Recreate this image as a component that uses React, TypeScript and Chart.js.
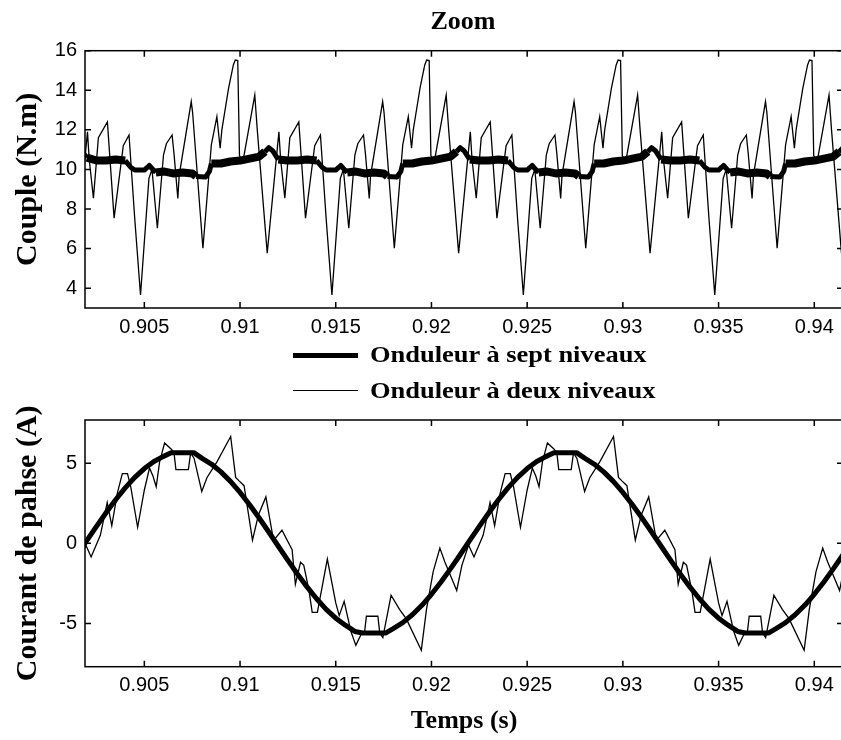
import React, { useEffect, useRef } from 'react';
import { Chart, registerables } from 'chart.js';

Chart.register(...registerables);

const SERIF = '"Liberation Serif", "Times New Roman", serif';
const SANS = '"Liberation Sans", Arial, sans-serif';

// ---- axes ----
const X_MIN = 0.9019;
const X_MAX = 0.9415;
const xTickValues = [0.905, 0.91, 0.915, 0.92, 0.925, 0.93, 0.935, 0.94];
const xTickLabels = ['0.905', '0.91', '0.915', '0.92', '0.925', '0.93', '0.935', '0.94'];
const torqueTicks = [4, 6, 8, 10, 12, 14, 16];
const currentTicks = [-5, 0, 5];

const legendLabels = ['Onduleur à sept niveaux', 'Onduleur à deux niveaux'];

// ---- Couple (N.m), two-level inverter: [time s, torque N.m] ----
const torqueTwoLevel: [number, number][] = [
  [0.90142, 5.77], [0.90203, 11.9], [0.90212, 10.5], [0.90234, 8.55], [0.9026, 11.6], [0.90307, 12.4], [0.90342, 7.54], [0.9039, 11.2], [0.9042, 11.74], [0.9045, 7.5],
  [0.9048, 3.66], [0.90524, 9.55], [0.9054, 10.0], [0.90568, 7.03], [0.906, 10.73], [0.90615, 11.3], [0.90645, 11.74], [0.90655, 10.8], [0.90675, 8.54], [0.90682, 9.7], [0.90745, 13.43], [0.90752, 12.9], [0.90806, 6.02], [0.9085, 11.24], [0.90879, 12.67], [0.90896, 11.07], [0.90905, 12.0], [0.9094, 14.1], [0.90965, 15.28], [0.90975, 15.53], [0.90988, 15.5], [0.90997, 10.7], [0.91015, 10.4], [0.91077, 13.76], [0.9109, 12.0], [0.91142, 5.77], [0.91203, 11.9], [0.91212, 10.5], [0.91234, 8.55], [0.9126, 11.6], [0.91307, 12.4], [0.91342, 7.54], [0.9139, 11.2], [0.9142, 11.74], [0.9145, 7.5],
  [0.9148, 3.66], [0.91524, 9.55], [0.9154, 10.0], [0.91568, 7.03], [0.916, 10.73], [0.91615, 11.3], [0.91645, 11.74], [0.91655, 10.8], [0.91675, 8.54], [0.91682, 9.7], [0.91745, 13.43], [0.91752, 12.9], [0.91806, 6.02], [0.9185, 11.24], [0.91879, 12.67], [0.91896, 11.07], [0.91905, 12.0], [0.9194, 14.1], [0.91965, 15.28], [0.91975, 15.53], [0.91988, 15.5], [0.91997, 10.7], [0.92015, 10.4], [0.92077, 13.76], [0.9209, 12.0], [0.92142, 5.77], [0.92203, 11.9], [0.92212, 10.5], [0.92234, 8.55], [0.9226, 11.6], [0.92307, 12.4], [0.92342, 7.54], [0.9239, 11.2], [0.9242, 11.74], [0.9245, 7.5],
  [0.9248, 3.66], [0.92524, 9.55], [0.9254, 10.0], [0.92568, 7.03], [0.926, 10.73], [0.92615, 11.3], [0.92645, 11.74], [0.92655, 10.8], [0.92675, 8.54], [0.92682, 9.7], [0.92745, 13.43], [0.92752, 12.9], [0.92806, 6.02], [0.9285, 11.24], [0.92879, 12.67], [0.92896, 11.07], [0.92905, 12.0], [0.9294, 14.1], [0.92965, 15.28], [0.92975, 15.53], [0.92988, 15.5], [0.92997, 10.7], [0.93015, 10.4], [0.93077, 13.76], [0.9309, 12.0], [0.93142, 5.77], [0.93203, 11.9], [0.93212, 10.5], [0.93234, 8.55], [0.9326, 11.6], [0.93307, 12.4], [0.93342, 7.54], [0.9339, 11.2], [0.9342, 11.74], [0.9345, 7.5],
  [0.9348, 3.66], [0.93524, 9.55], [0.9354, 10.0], [0.93568, 7.03], [0.936, 10.73], [0.93615, 11.3], [0.93645, 11.74], [0.93655, 10.8], [0.93675, 8.54], [0.93682, 9.7], [0.93745, 13.43], [0.93752, 12.9], [0.93806, 6.02], [0.9385, 11.24], [0.93879, 12.67], [0.93896, 11.07], [0.93905, 12.0], [0.9394, 14.1], [0.93965, 15.28], [0.93975, 15.53], [0.93988, 15.5], [0.93997, 10.7], [0.94015, 10.4], [0.94077, 13.76], [0.9409, 12.0], [0.94142, 5.77], [0.94203, 11.9], [0.94212, 10.5],
];

// ---- Couple (N.m), seven-level inverter: [time s, torque N.m] ----
const torqueSevenLevel: [number, number][] = [
  [0.901, 10.65], [0.9013, 10.9], [0.9015, 11.1], [0.9017, 10.95], [0.902, 10.6], [0.9025, 10.45], [0.903, 10.45], [0.9035, 10.5],
  [0.904, 10.45], [0.9043, 10.1], [0.9045, 9.97], [0.905, 9.97], [0.90515, 10.1], [0.90526, 10.2], [0.9054, 10.05], [0.9056, 9.85], [0.906, 9.9], [0.9065, 9.8], [0.907, 9.85], [0.9075, 9.8], [0.9077, 9.65], [0.9082, 9.62], [0.9084, 9.9], [0.9085, 10.3], [0.909, 10.3], [0.9095, 10.4], [0.91, 10.45], [0.9105, 10.55], [0.911, 10.65], [0.9113, 10.9], [0.9115, 11.1], [0.9117, 10.95], [0.912, 10.5], [0.9125, 10.45], [0.913, 10.45], [0.9135, 10.5],
  [0.914, 10.45], [0.9143, 10.1], [0.9145, 9.97], [0.915, 9.97], [0.91515, 10.1], [0.91526, 10.2], [0.9154, 10.05], [0.9156, 9.85], [0.916, 9.9], [0.9165, 9.8], [0.917, 9.85], [0.9175, 9.8], [0.9177, 9.65], [0.9182, 9.62], [0.9184, 9.9], [0.9185, 10.3], [0.919, 10.3], [0.9195, 10.4], [0.92, 10.45], [0.9205, 10.55], [0.921, 10.65], [0.9213, 10.9], [0.9215, 11.1], [0.9217, 10.95], [0.922, 10.5], [0.9225, 10.45], [0.923, 10.45], [0.9235, 10.5],
  [0.924, 10.45], [0.9243, 10.1], [0.9245, 9.97], [0.925, 9.97], [0.92515, 10.1], [0.92526, 10.2], [0.9254, 10.05], [0.9256, 9.85], [0.926, 9.9], [0.9265, 9.8], [0.927, 9.85], [0.9275, 9.8], [0.9277, 9.65], [0.9282, 9.62], [0.9284, 9.9], [0.9285, 10.3], [0.929, 10.3], [0.9295, 10.4], [0.93, 10.45], [0.9305, 10.55], [0.931, 10.65], [0.9313, 10.9], [0.9315, 11.1], [0.9317, 10.95], [0.932, 10.5], [0.9325, 10.45], [0.933, 10.45], [0.9335, 10.5],
  [0.934, 10.45], [0.9343, 10.1], [0.9345, 9.97], [0.935, 9.97], [0.93515, 10.1], [0.93526, 10.2], [0.9354, 10.05], [0.9356, 9.85], [0.936, 9.9], [0.9365, 9.8], [0.937, 9.85], [0.9375, 9.8], [0.9377, 9.65], [0.9382, 9.62], [0.9384, 9.9], [0.9385, 10.3], [0.939, 10.3], [0.9395, 10.4], [0.94, 10.45], [0.9405, 10.55], [0.941, 10.65], [0.9413, 10.9], [0.9415, 11.1], [0.9417, 10.95],
];

// ---- Courant de phase (A), seven-level inverter ----
const currentSevenLevel: [number, number][] = [
  [0.9015, -0.71], [0.902, 0.18], [0.9025, 1.06], [0.903, 1.91], [0.9035, 2.72], [0.904, 3.46], [0.9045, 4.12], [0.905, 4.67], [0.9055, 5.11], [0.906, 5.43], [0.9064, 5.65], [0.907, 5.65], [0.9076, 5.65], [0.908, 5.32], [0.9085, 4.95], [0.909, 4.46], [0.9095, 3.87], [0.91, 3.18], [0.9105, 2.41], [0.911, 1.58], [0.9115, 0.71], [0.912, -0.18], [0.9125, -1.06], [0.913, -1.91], [0.9135, -2.72], [0.914, -3.46], [0.9145, -4.12], [0.915, -4.67], [0.9155, -5.11], [0.916, -5.5], [0.9164, -5.6], [0.917, -5.6], [0.9176, -5.6], [0.918, -5.32], [0.9185, -4.95], [0.919, -4.46], [0.9195, -3.87], [0.92, -3.18], [0.9205, -2.41], [0.921, -1.58], [0.9215, -0.71],
  [0.922, 0.18], [0.9225, 1.06], [0.923, 1.91], [0.9235, 2.72], [0.924, 3.46], [0.9245, 4.12], [0.925, 4.67], [0.9255, 5.11], [0.926, 5.43], [0.9264, 5.65], [0.927, 5.65], [0.9276, 5.65], [0.928, 5.32], [0.9285, 4.95], [0.929, 4.46], [0.9295, 3.87], [0.93, 3.18], [0.9305, 2.41], [0.931, 1.58], [0.9315, 0.71], [0.932, -0.18], [0.9325, -1.06], [0.933, -1.91], [0.9335, -2.72], [0.934, -3.46], [0.9345, -4.12], [0.935, -4.67], [0.9355, -5.11], [0.936, -5.5], [0.9364, -5.6], [0.937, -5.6], [0.9376, -5.6], [0.938, -5.32], [0.9385, -4.95], [0.939, -4.46], [0.9395, -3.87], [0.94, -3.18], [0.9405, -2.41], [0.941, -1.58], [0.9415, -0.71], [0.942, 0.18],
];

// ---- Courant de phase (A), two-level inverter ----
const currentTwoLevel: [number, number][] = [
  [0.90044, -0.3], [0.9007, -1.17], [0.90132, -2.94], [0.90159, -1.37], [0.90194, -0.1], [0.90222, -0.85], [0.9027, 0.5], [0.90306, 2.55], [0.9033, 1.1], [0.90359, 3.14], [0.90385, 4.35], [0.90412, 4.35], [0.90429, 3.53], [0.90465, 1.0], [0.905, 3.33], [0.90527, 4.7], [0.90545, 4.2], [0.90562, 3.53], [0.9058, 5.1], [0.90606, 6.27], [0.90641, 5.88], [0.90655, 5.65], [0.90665, 4.6], [0.9073, 4.6], [0.90742, 5.65], [0.9076, 5.3], [0.908, 3.24], [0.90827, 4.1], [0.9088, 5.1], [0.90951, 6.67], [0.90977, 4.12], [0.90995, 3.9], [0.91021, 3.6], [0.91065, 0.2], [0.91096, 1.77], [0.91135, 2.9], [0.91175, 0.19], [0.91219, 0.82], [0.91272, -0.39], [0.91289, -2.55], [0.91316, -1.18], [0.91333, -1.37], [0.9136, -2.94], [0.91377, -4.31], [0.91404, -4.31], [0.91456, -0.98], [0.915, -3.72], [0.91518, -4.51], [0.91544, -3.62], [0.91579, -5.49], [0.91605, -6.37], [0.91632, -5.69], [0.9165, -5.6], [0.9166, -4.55], [0.9172, -4.55], [0.9173, -5.6], [0.91746, -5.88], [0.91789, -3.24], [0.91833, -4.12], [0.91868, -4.7], [0.91947, -6.67], [0.91974, -4.12], [0.92009, -1.76],
  [0.92044, -0.3], [0.9207, -1.17], [0.92132, -2.94], [0.92159, -1.37], [0.92194, -0.1], [0.92222, -0.85], [0.9227, 0.5], [0.92306, 2.55], [0.9233, 1.1], [0.92359, 3.14], [0.92385, 4.35], [0.92412, 4.35], [0.92429, 3.53], [0.92465, 1.0], [0.925, 3.33], [0.92527, 4.7], [0.92545, 4.2], [0.92562, 3.53], [0.9258, 5.1], [0.92606, 6.27], [0.92641, 5.88], [0.92655, 5.65], [0.92665, 4.6], [0.9273, 4.6], [0.92742, 5.65], [0.9276, 5.3], [0.928, 3.24], [0.92827, 4.1], [0.9288, 5.1], [0.92951, 6.67], [0.92977, 4.12], [0.92995, 3.9], [0.93021, 3.6], [0.93065, 0.2], [0.93096, 1.77], [0.93135, 2.9], [0.93175, 0.19], [0.93219, 0.82], [0.93272, -0.39], [0.93289, -2.55], [0.93316, -1.18], [0.93333, -1.37], [0.9336, -2.94], [0.93377, -4.31], [0.93404, -4.31], [0.93456, -0.98], [0.935, -3.72], [0.93518, -4.51], [0.93544, -3.62], [0.93579, -5.49], [0.93605, -6.37], [0.93632, -5.69], [0.9365, -5.6], [0.9366, -4.55], [0.9372, -4.55], [0.9373, -5.6], [0.93746, -5.88], [0.93789, -3.24], [0.93833, -4.12], [0.93868, -4.7], [0.93947, -6.67], [0.93974, -4.12], [0.94009, -1.76],
  [0.94044, -0.3], [0.9407, -1.17], [0.94132, -2.94], [0.94159, -1.37], [0.94194, -0.1],
];

// parts of each 10 ms torque period (ms after 0.894 s) where the seven-level trace is a noisy band
const TORQUE_ORIGIN = 0.894;
const noisyRanges: [number, number][] = [[1.5, 3.65], [4.45, 7.2], [7.95, 10.0]];

const toPoints = (arr: [number, number][]) => arr.map(([x, y]) => ({ x, y }));

const boxPlugin = {
  id: 'matlabBox',
  afterDatasetsDraw(chart: any) {
    const { ctx, chartArea } = chart;
    const { left, right, top, bottom } = chartArea;
    const xs = chart.scales.x;
    const ys = chart.scales.y;
    ctx.save();
    ctx.strokeStyle = '#000';
    ctx.lineWidth = 1.5;
    ctx.strokeRect(left, top, right - left, bottom - top);
    ctx.beginPath();
    const L = 6;
    xs.ticks.forEach((t: any) => {
      const p = xs.getPixelForValue(t.value);
      ctx.moveTo(p, bottom); ctx.lineTo(p, bottom - L);
      ctx.moveTo(p, top); ctx.lineTo(p, top + L);
    });
    ys.ticks.forEach((t: any) => {
      const p = ys.getPixelForValue(t.value);
      ctx.moveTo(left, p); ctx.lineTo(left + L, p);
      ctx.moveTo(right, p); ctx.lineTo(right - L, p);
    });
    ctx.stroke();
    ctx.restore();
  },
};

function xScale(labelPad: number, height: number, withTitle: boolean) {
  return {
    type: 'linear',
    min: X_MIN,
    max: X_MAX,
    afterBuildTicks: (s: any) => { s.ticks = xTickValues.map((v) => ({ value: v })); },
    afterFit: (s: any) => { s.height = height; },
    grid: { display: false, drawTicks: false },
    border: { display: false },
    ticks: {
      autoSkip: false,
      maxRotation: 0,
      padding: labelPad,
      color: '#000',
      font: { family: SANS, size: 20 },
      callback: (v: number) => {
        const i = xTickValues.findIndex((t) => Math.abs(t - v) < 1e-9);
        return i >= 0 ? xTickLabels[i] : '';
      },
    },
    title: {
      display: withTitle,
      text: 'Temps (s)',
      color: '#000',
      font: { family: SERIF, size: 26, weight: 'bold' },
      padding: { top: 0, bottom: 3.5 },
    },
  };
}

function yScale(min: number, max: number, ticks: number[], title: string) {
  return {
    type: 'linear',
    min,
    max,
    afterBuildTicks: (s: any) => { s.ticks = ticks.map((v) => ({ value: v })); },
    afterFit: (s: any) => { s.width = 85; },
    grid: { display: false, drawTicks: false },
    border: { display: false },
    ticks: {
      padding: 8,
      color: '#000',
      font: { family: SANS, size: 20 },
      callback: (v: number) => String(v),
    },
    title: {
      display: true,
      text: title,
      color: '#000',
      font: { family: SERIF, size: 30, weight: 'bold' },
      padding: { top: 10, bottom: 0 },
    },
  };
}

function bandWidth(ctx: any) {
  const xm = (ctx.p0.parsed.x + ctx.p1.parsed.x) / 2;
  const off = ((((xm - TORQUE_ORIGIN) * 1000) % 10) + 10) % 10;
  return noisyRanges.some(([a, b]) => off >= a && off < b) ? 8 : 5;
}

function topConfig(): any {
  return {
    type: 'line',
    data: {
      datasets: [
        {
          label: legendLabels[0],
          data: toPoints(torqueSevenLevel),
          borderColor: '#000',
          borderWidth: 5,
          borderJoinStyle: 'round',
          borderCapStyle: 'butt',
          pointRadius: 0,
          tension: 0,
          segment: { borderWidth: bandWidth },
        },
        {
          label: legendLabels[1],
          data: toPoints(torqueTwoLevel),
          borderColor: '#000',
          borderWidth: 1.3,
          pointRadius: 0,
          tension: 0,
        },
      ],
    },
    options: {
      animation: false,
      responsive: false,
      maintainAspectRatio: false,
      events: [],
      layout: { padding: { top: 50.7, right: 17, left: 0, bottom: 0 } },
      plugins: { legend: { display: false }, tooltip: { enabled: false }, title: { display: false } },
      scales: {
        x: xScale(7, 37, false),
        y: yScale(3, 16, torqueTicks, 'Couple (N.m)'),
      },
    },
    plugins: [boxPlugin],
  };
}

function bottomConfig(): any {
  return {
    type: 'line',
    data: {
      datasets: [
        {
          label: legendLabels[0],
          data: toPoints(currentSevenLevel),
          borderColor: '#000',
          borderWidth: 5,
          borderJoinStyle: 'round',
          borderCapStyle: 'round',
          pointRadius: 0,
          tension: 0,
        },
        {
          label: legendLabels[1],
          data: toPoints(currentTwoLevel),
          borderColor: '#000',
          borderWidth: 1.3,
          pointRadius: 0,
          tension: 0,
        },
      ],
    },
    options: {
      animation: false,
      responsive: false,
      maintainAspectRatio: false,
      events: [],
      layout: { padding: { top: 7.3, right: 17, left: 0, bottom: 0 } },
      plugins: { legend: { display: false }, tooltip: { enabled: false }, title: { display: false } },
      scales: {
        x: xScale(6.5, 73.3, true),
        y: yScale(-7.7, 7.7, currentTicks, 'Courant de pahse (A)'),
      },
    },
    plugins: [boxPlugin],
  };
}

export default function App() {
  const topRef = useRef<HTMLCanvasElement>(null);
  const botRef = useRef<HTMLCanvasElement>(null);

  useEffect(() => {
    const c1 = new Chart(topRef.current as HTMLCanvasElement, topConfig());
    const c2 = new Chart(botRef.current as HTMLCanvasElement, bottomConfig());
    return () => {
      c1.destroy();
      c2.destroy();
    };
  }, []);

  const legendText: React.CSSProperties = {
    position: 'absolute',
    left: 370,
    font: `bold 23px ${SERIF}`,
    lineHeight: '23px',
    whiteSpace: 'nowrap',
    color: '#000',
    transform: 'scaleX(1.15)',
    transformOrigin: 'left center',
  };

  return (
    <div style={{ position: 'absolute', left: 0, top: 0, width: 841, height: 740, overflow: 'hidden', background: '#fff' }}>
      <canvas ref={topRef} width={860} height={345} style={{ position: 'absolute', left: 0, top: 0, width: 860, height: 345 }} />
      <canvas ref={botRef} width={860} height={340} style={{ position: 'absolute', left: 0, top: 400, width: 860, height: 340 }} />
      <div style={{ position: 'absolute', left: 0, top: 7.4, width: 926, textAlign: 'center', font: `bold 26px ${SERIF}`, lineHeight: '27px', color: '#000' }}>
        Zoom
      </div>
      <div style={{ position: 'absolute', left: 293, top: 352.5, width: 65, height: 5, background: '#000' }} />
      <div style={{ ...legendText, top: 342.7 }}>{legendLabels[0]}</div>
      <div style={{ position: 'absolute', left: 293, top: 389.5, width: 65, height: 1.3, background: '#000' }} />
      <div style={{ ...legendText, top: 378.7 }}>{legendLabels[1]}</div>
    </div>
  );
}
